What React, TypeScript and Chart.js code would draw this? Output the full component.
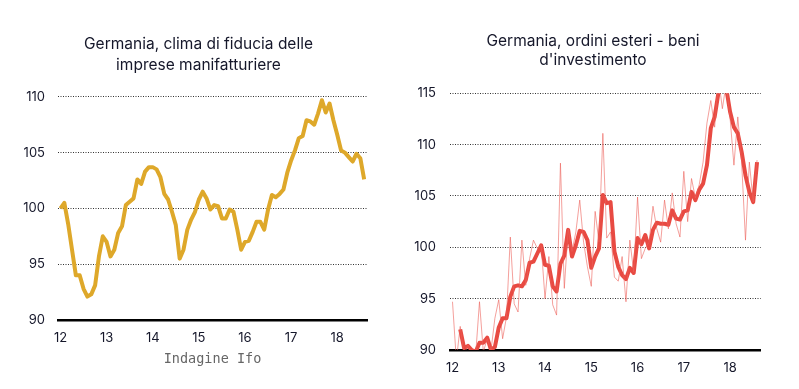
import React, { useEffect, useRef } from 'react';
import { Chart, registerables } from 'chart.js';

Chart.register(...registerables);

// ---- data ----
const startYear = 12; // first month: January 2012
const yearTicks = [12, 13, 14, 15, 16, 17, 18];
const leftYTicks = [90, 95, 100, 105, 110];
const rightYTicks = [90, 95, 100, 105, 110, 115];
const leftTitle = ['Germania, clima di fiducia delle', 'imprese manifatturiere'];
const rightTitle = ['Germania, ordini esteri - beni', "d'investimento"];
const leftAxisTitle = 'Indagine Ifo';

// Ifo manufacturing business climate, monthly Jan 2012 - Aug 2018
const ifoValues = [
  100.0, 100.5, 98.6, 96.3, 94.0, 94.0, 92.8, 92.1, 92.3, 93.1, 95.7, 97.5,
  97.0, 95.7, 96.3, 97.8, 98.4, 100.3, 100.6, 100.9, 102.6, 102.2, 103.3, 103.7,
  103.7, 103.5, 102.8, 101.3, 100.8, 99.7, 98.5, 95.5, 96.3, 98.1, 99.0, 99.7,
  100.8, 101.5, 100.9, 99.9, 100.3, 100.2, 99.1, 99.1, 99.9, 99.7, 98.1, 96.3,
  97.0, 97.1, 97.9, 98.8, 98.8, 98.1, 99.9, 101.2, 101.0, 101.3, 101.7, 103.2,
  104.3, 105.2, 106.3, 106.5, 107.9, 107.8, 107.5, 108.5, 109.7, 108.6, 109.4, 107.9,
  106.6, 105.2, 105.0, 104.6, 104.2, 104.9, 104.5, 102.6,
];

// Foreign orders, capital goods: monthly values
const ordersMonthly = [
  94.7, 89.0, 92.3, 89.5, 90.5, 89.5, 89.5, 94.7, 89.8, 91.1, 90.0, 93.1,
  94.9, 91.1, 93.2, 101.0, 94.5, 93.7, 100.7, 96.3, 98.9, 100.7, 99.9, 100.2,
  95.0, 99.1, 94.4, 93.4, 108.2, 96.0, 101.8, 99.6, 101.5, 104.6, 100.5, 98.1,
  96.2, 103.5, 100.5, 111.1, 100.9, 101.5, 97.1, 96.7, 99.1, 94.7, 100.7, 97.6,
  104.9, 98.9, 99.9, 100.5, 104.0, 101.8, 100.5, 104.6, 101.8, 105.3, 102.3, 101.0,
  107.4, 102.5, 106.7, 104.8, 106.1, 108.3, 112.1, 114.3, 111.7, 116.5, 113.5, 116.0,
  112.6, 108.0, 112.7, 108.3, 100.7, 108.3, 104.4, 108.5,
];

// Foreign orders, capital goods: 3-month average
const ordersAvg3m = [
  null, null, 92.0, 90.2, 90.4, 90.0, 89.8, 90.7, 90.7, 91.2, 90.0, 90.3,
  92.2, 93.1, 93.1, 95.2, 96.2, 96.3, 96.2, 96.8, 98.5, 98.6, 99.4, 100.2,
  98.3, 98.2, 96.2, 95.7, 98.4, 99.2, 101.7, 99.1, 100.2, 101.6, 101.5, 100.7,
  98.0, 99.1, 99.9, 105.1, 104.3, 104.4, 99.6, 98.1, 97.3, 96.9, 98.0, 97.5,
  100.9, 100.3, 101.2, 99.9, 101.7, 102.4, 102.3, 102.3, 102.2, 103.6, 102.8, 102.7,
  103.5, 103.6, 105.4, 104.6, 105.6, 106.2, 108.0, 111.6, 112.7, 115.1, 116.0, 115.5,
  113.2, 111.7, 111.1, 109.3, 107.0, 105.4, 104.4, 108.3,
];

// ---- helpers ----
const toPoints = (vals: (number | null)[]) =>
  vals
    .map((v, i) => ({ x: startYear + i / 12, y: v }))
    .filter((p) => p.y !== null);

const textColor = '#15172a';
const titleFont = 'Inter, "Noto Sans", sans-serif';

function makeOptions(cfg: any) {
  return {
    responsive: false,
    animation: false,
    events: [],
    layout: { padding: { left: cfg.padL, right: cfg.padR, top: 0, bottom: 0 } },
    plugins: {
      legend: { display: false },
      tooltip: { enabled: false },
      title: {
        display: true,
        text: cfg.title,
        color: textColor,
        font: { family: titleFont, size: 15.5, weight: 'normal', lineHeight: cfg.titleLH },
        padding: { top: cfg.titleTop, bottom: cfg.titleBottom },
      },
    },
    scales: {
      x: {
        type: 'linear',
        min: cfg.xMin,
        max: cfg.xMax,
        afterBuildTicks: (s: any) => {
          s.ticks = yearTicks.map((v) => ({ value: v }));
        },
        afterFit: (s: any) => {
          s.height = cfg.xHeight;
        },
        ticks: {
          color: textColor,
          font: { family: titleFont, size: 13 },
          padding: 10,
          maxRotation: 0,
          autoSkip: false,
          callback: (v: any) => String(v),
        },
        grid: { display: false, drawTicks: false },
        border: { display: true, color: '#000', width: 2.5 },
        title: cfg.xTitle
          ? {
              display: true,
              text: cfg.xTitle,
              color: '#666',
              font: { family: '"DejaVu Sans Mono", monospace', size: 13.5 },
              padding: { top: 0, bottom: 21 },
            }
          : { display: false },
      },
      y: {
        type: 'linear',
        position: 'left',
        min: cfg.yMin,
        max: cfg.yMax,
        afterBuildTicks: (s: any) => {
          s.ticks = cfg.yTicks.map((v: number) => ({ value: v }));
        },
        afterFit: (s: any) => {
          s.width = cfg.yWidth;
        },
        ticks: {
          color: textColor,
          font: { family: titleFont, size: 13 },
          padding: cfg.yPad,
          callback: (v: any) => String(v),
        },
        grid: { color: '#333', lineWidth: 1, drawTicks: false },
        border: { display: false, dash: [1, 1.5] },
      },
      // empty spacer on the right, so the title centres like the original
      yRight: {
        type: 'linear',
        position: 'right',
        display: true,
        min: cfg.yMin,
        max: cfg.yMax,
        afterFit: (s: any) => {
          s.width = cfg.rightSpace;
        },
        ticks: { display: false },
        grid: { display: false, drawTicks: false },
        border: { display: false },
      },
    },
  };
}

function LeftChart() {
  const ref = useRef<HTMLCanvasElement>(null);
  useEffect(() => {
    const chart = new Chart(ref.current!, {
      type: 'line',
      data: {
        datasets: [
          {
            data: toPoints(ifoValues) as any,
            borderColor: '#dea82a',
            borderWidth: 4,
            pointRadius: 0,
            tension: 0,
            borderJoinStyle: 'round',
          },
        ],
      },
      options: makeOptions({
        padL: 20,
        padR: 23,
        rightSpace: 10,
        title: leftTitle,
        titleLH: 1.35,
        titleTop: 34,
        titleBottom: 21,
        xMin: 11.946,
        xMax: 18.645,
        xHeight: 69,
        xTitle: leftAxisTitle,
        yMin: 90,
        yMax: 110,
        yTicks: leftYTicks,
        yWidth: 38,
        yPad: 13,
      }) as any,
    });
    return () => chart.destroy();
  }, []);
  return <canvas ref={ref} width={400} height={389} />;
}

function RightChart() {
  const ref = useRef<HTMLCanvasElement>(null);
  useEffect(() => {
    const chart = new Chart(ref.current!, {
      type: 'line',
      data: {
        datasets: [
          {
            data: toPoints(ordersMonthly) as any,
            borderColor: 'rgba(236, 96, 90, 0.6)',
            borderWidth: 1,
            pointRadius: 0,
            tension: 0,
          },
          {
            data: toPoints(ordersAvg3m) as any,
            borderColor: '#e84a42',
            borderWidth: 4,
            pointRadius: 0,
            tension: 0,
            borderJoinStyle: 'round',
          },
        ],
      },
      options: makeOptions({
        padL: 12,
        padR: 25,
        rightSpace: 13.3,
        title: rightTitle,
        titleLH: 1.19,
        titleTop: 32.5,
        titleBottom: 23.9,
        xMin: 11.946,
        xMax: 18.662,
        xHeight: 39,
        xTitle: null,
        yMin: 90,
        yMax: 115,
        yTicks: rightYTicks,
        yWidth: 38,
        yPad: 14,
      }) as any,
    });
    return () => chart.destroy();
  }, []);
  return <canvas ref={ref} width={399} height={389} />;
}

export default function App() {
  return (
    <div
      style={{
        position: 'fixed',
        left: 0,
        top: 0,
        width: 799,
        height: 389,
        background: '#fff',
        display: 'flex',
      }}
    >
      <LeftChart />
      <RightChart />
    </div>
  );
}
